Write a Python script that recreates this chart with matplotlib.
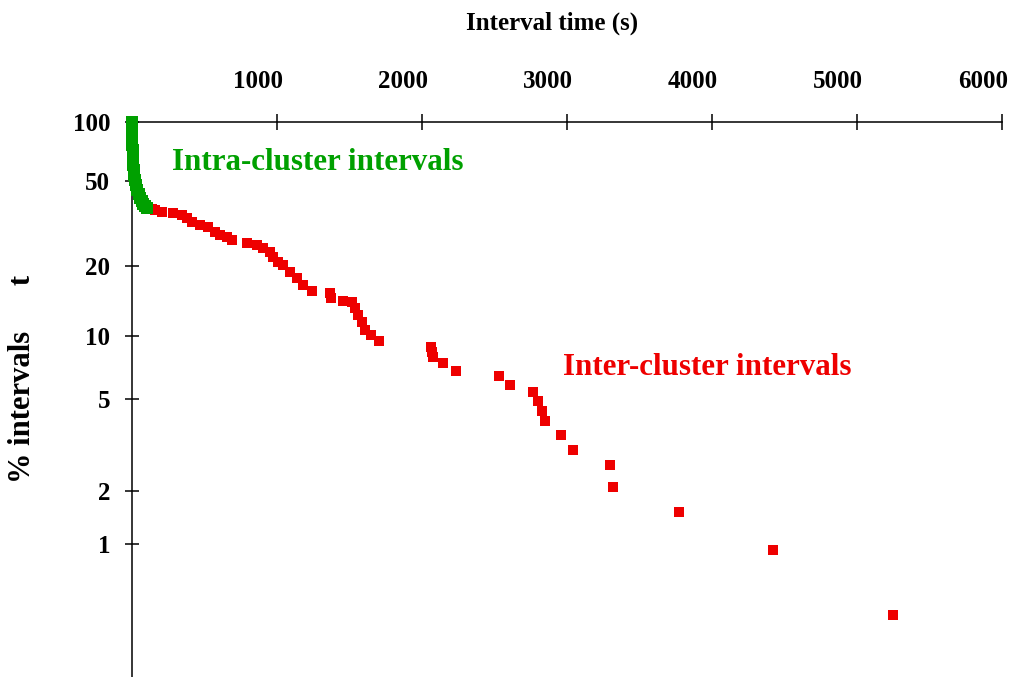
import numpy as np
import matplotlib
matplotlib.use("Agg")
import matplotlib.pyplot as plt
from matplotlib.ticker import FixedLocator, FixedFormatter, NullLocator
from matplotlib.transforms import ScaledTranslation

# ---- data: survivor curve of inter-event intervals -------------------------
intra_time = [1, 2, 2, 4, 4, 5.5, 7, 9, 10, 12, 16, 19, 23, 30, 37, 47, 57, 68,
              78, 92, 106]
intra_pct = [100, 95.1, 90.8, 85.6, 80.7, 76.1, 71.8, 67.8, 63.9, 60.3, 56.9,
             53.6, 50.6, 47.9, 45.4, 43.4, 41.6, 40.3, 39.0, 38.1, 37.3]

inter_time = [140, 161, 207, 287, 345, 379, 414, 471, 528, 575, 609, 655, 690,
              793, 862, 908, 954, 977, 1011, 1046, 1092, 1138, 1183, 1241,
              1368, 1375, 1455, 1517, 1540, 1563, 1586, 1609, 1648, 1708,
              2062, 2069, 2080, 2145, 2237, 2530, 2609, 2771, 2804, 2828,
              2850, 2961, 3046, 3301, 3321, 3775, 4421, 5248]
inter_pct = [36.9, 36.5, 35.9, 35.3, 34.6, 33.4, 32.2, 31.1, 30.5, 28.9, 27.9,
             27.4, 26.4, 25.7, 25.0, 24.1, 23.3, 22.0, 20.9, 20.2, 18.8, 17.7,
             16.5, 15.5, 15.2, 14.5, 14.1, 14.0, 13.1, 12.3, 11.5, 10.6, 10.1,
             9.4, 8.8, 8.4, 7.9, 7.4, 6.8, 6.4, 5.8, 5.4, 4.9, 4.45, 4.0, 3.5,
             3.0, 2.6, 2.08, 1.52, 0.94, 0.458]

x_ticks = [1000, 2000, 3000, 4000, 5000, 6000]
x_labels = ["1000", "2000", "3000", "4000", "5000", "6000"]
y_ticks = [1, 2, 5, 10, 20, 50, 100]
y_labels = ["1", "2", "5", "10", "20", "50", "100"]

GREEN = "#00a000"
RED = "#ee0000"
FONT = "Liberation Serif"

# ---- hand-spaced logarithmic percentage axis ------------------------------
# knots: log10(value) -> relative axis position of the printed gridline
_LOG_KNOTS = np.array([-3.0, 0.0, np.log10(2), np.log10(5), 1.0,
                       np.log10(20), np.log10(50), 2.0, 4.0])
_POS_KNOTS = -np.array([1170.1, 544.3, 491.0, 399.0, 335.7, 265.7, 181.0,
                        121.7, -306.3])


def _fwd(v):
    v = np.asarray(v, dtype=float)
    with np.errstate(divide="ignore", invalid="ignore"):
        lv = np.log10(np.maximum(v, 1e-12))
    return np.interp(lv, _LOG_KNOTS, _POS_KNOTS)


def _inv(p):
    p = np.asarray(p, dtype=float)
    return 10 ** np.interp(p, _POS_KNOTS, _LOG_KNOTS)


W, H, DPI = 1013, 677, 100
fig = plt.figure(figsize=(W / DPI, H / DPI), dpi=DPI)
fig.patch.set_facecolor("white")

left, right, top = 131.7, 1001.7, 121.7
ax = fig.add_axes([left / W, 0.0, (right - left) / W, 1 - top / H])
ax.set_yscale("function", functions=(_fwd, _inv))
ax.set_xlim(0, 6000)
ax.set_ylim(_inv(-677.0), 100)

ax.plot(inter_time, inter_pct, ls="none", marker="s", ms=7.3, mew=0,
        color=RED, clip_on=False, zorder=4)
ax.plot(intra_time, intra_pct, ls="none", marker="s", ms=8.2, mew=0,
        color=GREEN, clip_on=False, zorder=5)

# spines: time axis along the top, percentage axis on the left
for s in ("bottom", "right"):
    ax.spines[s].set_visible(False)
for s in ("top", "left"):
    ax.spines[s].set_linewidth(1.1)
    ax.spines[s].set_color("black")

ax.xaxis.set_ticks_position("top")
ax.xaxis.set_major_locator(FixedLocator(x_ticks))
ax.xaxis.set_major_formatter(FixedFormatter(x_labels))
ax.xaxis.set_minor_locator(NullLocator())
ax.tick_params(axis="x", which="major", direction="inout", length=12,
               width=1.1, pad=14.5, labelsize=18)

ax.yaxis.set_major_locator(FixedLocator(y_ticks))
ax.yaxis.set_major_formatter(FixedFormatter(y_labels))
ax.yaxis.set_minor_locator(NullLocator())
ax.tick_params(axis="y", which="major", direction="inout", length=10,
               width=1.1, pad=10.5, labelsize=18)

for lab in ax.get_xticklabels() + ax.get_yticklabels():
    lab.set_fontfamily(FONT)
    lab.set_fontweight("bold")

# time labels sit a little to the left of their tick marks
shift = ScaledTranslation(-19 / DPI, 0, fig.dpi_scale_trans)
for lab in ax.get_xticklabels():
    lab.set_transform(lab.get_transform() + shift)

fig.text(552 / W, 1 - 30 / H, "Interval time (s)", ha="center",
         va="baseline", fontsize=18, fontweight="bold", family=FONT)
fig.text(37 / W, 1 - 379 / H, "% intervals      t", rotation=90,
         ha="right", va="center", fontsize=22, fontweight="bold",
         family=FONT)

fig.text(172 / W, 1 - 170 / H, "Intra-cluster intervals", ha="left",
         va="baseline", fontsize=22.3, fontweight="bold", family=FONT,
         color=GREEN)
fig.text(563 / W, 1 - 375 / H, "Inter-cluster intervals", ha="left",
         va="baseline", fontsize=22.3, fontweight="bold", family=FONT,
         color=RED)

fig.savefig("out.png", dpi=DPI, facecolor="white")
